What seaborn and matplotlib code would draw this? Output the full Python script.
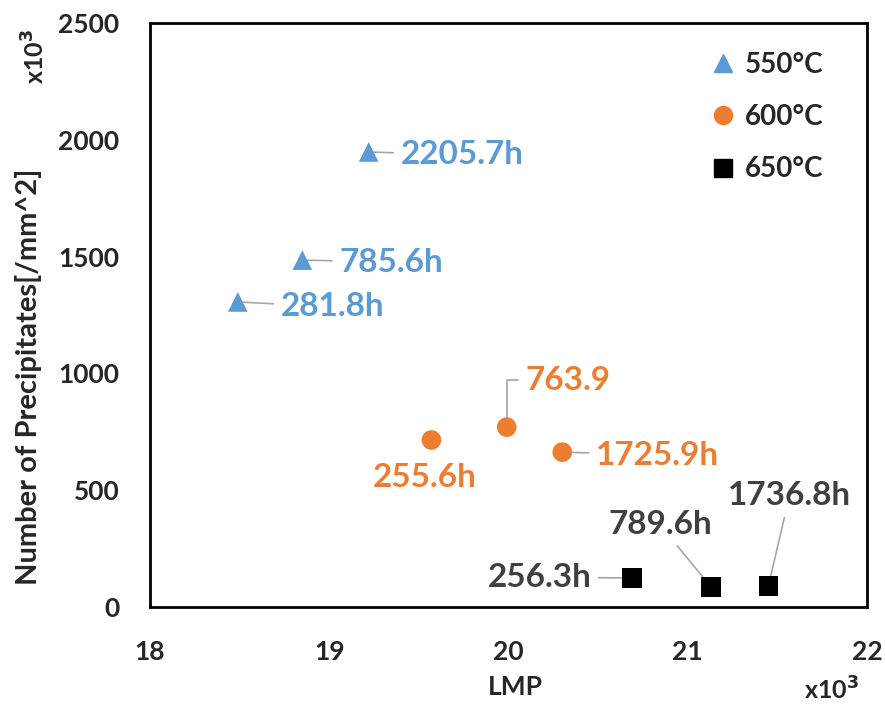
import numpy as np
import pandas as pd
import seaborn as sns
import matplotlib.pyplot as plt

# values (LMP in x10^3, precipitates in x10^3 /mm^2)
temps = ["550°C", "600°C", "650°C"]
lmp_550 = [18.49, 18.85, 19.22]
num_550 = [1306, 1485, 1948]
lab_550 = ["281.8h", "785.6h", "2205.7h"]
lmp_600 = [19.57, 19.99, 20.30]
num_600 = [715, 770, 663]
lab_600 = ["255.6h", "763.9", "1725.9h"]
lmp_650 = [20.69, 21.13, 21.45]
num_650 = [124, 86, 90]
lab_650 = ["256.3h", "789.6h", "1736.8h"]

df = pd.DataFrame({
    "LMP": lmp_550 + lmp_600 + lmp_650,
    "N": num_550 + num_600 + num_650,
    "label": lab_550 + lab_600 + lab_650,
    "temp": [temps[0]] * 3 + [temps[1]] * 3 + [temps[2]] * 3,
})

sns.set_style("white")
plt.rcParams["font.family"] = ["Lato", "DejaVu Sans"]
plt.rcParams["font.weight"] = "bold"

palette = {"550°C": "#5B9BD5", "600°C": "#ED7D31", "650°C": "#000000"}
markers = {"550°C": "^", "600°C": "o", "650°C": "s"}
text_col = {"550°C": "#5B9BD5", "600°C": "#ED7D31", "650°C": "#404040"}

fig = plt.figure(figsize=(8.85, 7.11), dpi=100)
ax = fig.add_axes([150 / 885, 1 - 607 / 711, (867 - 150) / 885, (607 - 23) / 711])

sns.scatterplot(data=df, x="LMP", y="N", hue="temp", style="temp",
                palette=palette, markers=markers, s=200, edgecolor="none",
                ax=ax, legend=False, zorder=3)

# label offsets in pixels: dx, dy, ha, leader line style
offsets = {
    "281.8h": (43, -5, "left", "arc3"),
    "785.6h": (37, -2, "left", "arc3"),
    "2205.7h": (32, -3, "left", "arc3"),
    "255.6h": (-7, -38, "center", None),
    "763.9": (19, 47, "left", "angle,angleA=0,angleB=90,rad=0"),
    "1725.9h": (34, -3, "left", "arc3"),
    "256.3h": (-41, 1, "right", "arc3"),
    "789.6h": (-51, 62, "center", "arc3"),
    "1736.8h": (21, 90, "center", "arc3"),
}

for _, r in df.iterrows():
    dx, dy, ha, conn = offsets[r["label"]]
    arrow = None
    if conn:
        arrow = dict(arrowstyle="-", color="#A6A6A6", lw=1.2,
                     shrinkA=3, shrinkB=0, connectionstyle=conn)
    ax.annotate(r["label"], xy=(r["LMP"], r["N"]), xytext=(dx, dy),
                textcoords="offset pixels", ha=ha, va="center",
                fontsize=24, fontweight="bold", color=text_col[r["temp"]],
                arrowprops=arrow, zorder=2)

ax.set_xlim(18, 22)
ax.set_ylim(0, 2500)
ax.set_xticks([18, 19, 20, 21, 22])
ax.set_yticks([0, 500, 1000, 1500, 2000, 2500])
ax.tick_params(axis="x", labelsize=19, length=0, pad=24)
ax.tick_params(axis="y", labelsize=19, length=0, pad=22)
for lbl in ax.get_xticklabels() + ax.get_yticklabels():
    lbl.set_fontweight("bold")
ax.set_xlabel("LMP", fontsize=19, fontweight="bold")
ax.xaxis.set_label_coords(0.51, -0.117)
ax.set_ylabel("Number of Precipitates[/mm^2]", fontsize=21, fontweight="bold")
ax.yaxis.set_label_coords(-0.15, 0.394)
for sp in ax.spines.values():
    sp.set_color("black")
    sp.set_linewidth(2)

# legend
handles = [plt.Line2D([], [], ls="none", marker=markers[t], color=palette[t],
                      markersize=13) for t in temps]
ax.legend(handles, temps, loc="upper right", bbox_to_anchor=(0.955, 0.97),
          frameon=False, handlelength=1.0, handletextpad=0.3, labelspacing=0.95,
          borderaxespad=0, prop={"weight": "bold", "size": 20})

fig.text(35 / 885, 1 - 56 / 711, "x10$^3$", rotation=90, ha="center", va="center",
         fontsize=18, fontweight="bold")
fig.text(832 / 885, 1 - 690 / 711, "x10$^3$", ha="center", va="center",
         fontsize=18, fontweight="bold")

fig.savefig("out.png", dpi=100)
